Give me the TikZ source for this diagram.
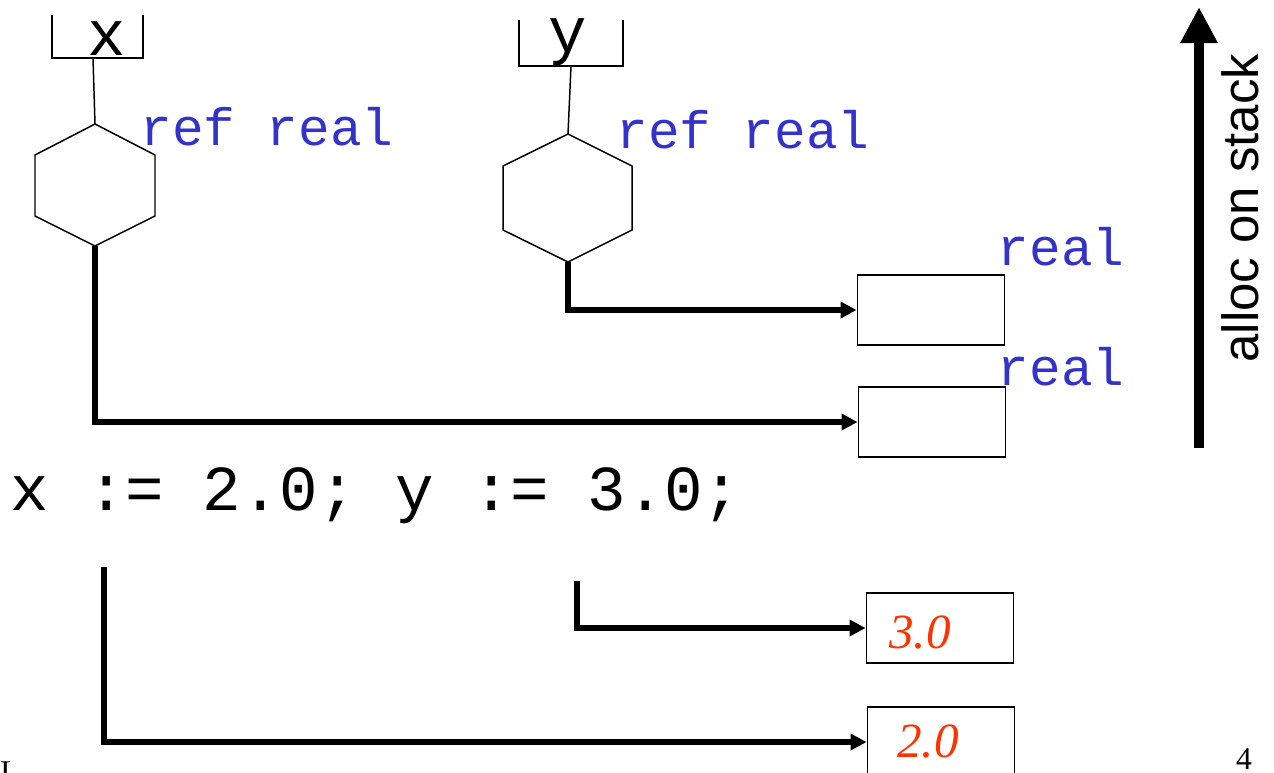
\documentclass[tikz,border=0pt]{standalone}
\usepackage{fontspec}
\setmainfont{Liberation Serif}
\setsansfont{Liberation Sans}
\setmonofont{Liberation Mono}
\usepackage{xcolor}
\definecolor{typeblue}{RGB}{51,51,204}
\definecolor{valred}{RGB}{255,51,0}
\usetikzlibrary{positioning,calc,arrows.meta}

\begin{document}
\begin{tikzpicture}[x=0.02cm, y=-0.02cm, >={Triangle[length=0.32cm,width=0.32cm]},
  frame/.style={draw, line width=0.85pt},
  cell/.style={draw, line width=0.85pt, minimum width=2.95cm, minimum height=1.4cm, inner sep=0pt},
  typ/.style={text=typeblue, font=\ttfamily\fontsize{30}{30}\selectfont, inner sep=0pt},
  code/.style={font=\ttfamily\fontsize{36.5}{36.5}\selectfont, inner sep=0pt},
  val/.style={text=valred, font=\itshape\fontsize{28}{28}\selectfont, inner sep=0pt},
  ptr/.style={->, line width=3.1pt}]

\useasboundingbox (0,0) rectangle (1274,772);

% variable x and its ref cell
\draw[frame] (52,15) -- (52,58) -- (143,58) -- (143,15);
\node[code, anchor=base] (xname) at (107,55) {x};
\coordinate (xfoot) at (93,58);
\draw[frame] (95,124) coordinate (hx-top) -- (155,155) -- (155,216)
  -- (95,246) coordinate (hx-bot) -- (35,216) -- (35,155) -- cycle;
\node[typ, anchor=base] (hx-type) at (267,145) {ref real};
\draw[frame] (xfoot) -- (hx-top);

% variable y and its ref cell
\draw[frame] (519,20) -- (519,66) -- (623,66) -- (623,20);
\node[code, anchor=base] (yname) at (568,52) {y};
\coordinate (yfoot) at (571,66);
\draw[frame] (568,134) coordinate (hy-top) -- (632,166) -- (632,230)
  -- (568,262) coordinate (hy-bot) -- (503,230) -- (503,166) -- cycle;
\node[typ, anchor=base] (hy-type) at (743,148) {ref real};
\draw[frame] (yfoot) -- (hy-top);

% real cells on the heap
\node[cell] (r1) at (931,310) {};
\node[cell] (r2) at (932,422) {};
\node[typ, anchor=base] (r1-type) at (1061,265) {real};
\node[typ, anchor=base] (r2-type) at (1061,385) {real};

\draw[ptr] (hy-bot) |- (r1.west);
\draw[ptr] (hx-bot) |- (r2.west);

% stack direction
\coordinate (stackbot) at (1199,448);
\coordinate (stacktop) at (1199,7);
\draw[line width=5.7pt, -{Triangle[length=0.72cm,width=0.7cm]}] (stackbot) -- (stacktop);
\node[rotate=90, anchor=base, inner sep=0pt, font=\sffamily\fontsize{29}{29}\selectfont] (alloc) at (1258,208) {alloc on stack};

% assignment
\node[code, anchor=base] (stmt) at (376,510) {x := 2.0; y := 3.0;};

\coordinate (xout) at (104,567);
\coordinate (yout) at (577,581);
\node[cell] (v3) at (940,628) {};
\node[cell] (v2) at (941,742) {};
\node[val, anchor=base west] (v3-txt) at (889,648) {3.0};
\node[val, anchor=base west] (v2-txt) at (897,757) {2.0};

\draw[ptr] (yout) |- (v3.west);
\draw[ptr] (xout) |- (v2.west);

% page footer
\node[anchor=base, inner sep=0pt, font=\fontsize{18}{18}\selectfont] (pageno) at (1244,769) {4};
\node[anchor=north west, inner sep=0pt, font=\fontsize{18}{18}\selectfont] (foot) at (0,761) {L};
\end{tikzpicture}
\end{document}
